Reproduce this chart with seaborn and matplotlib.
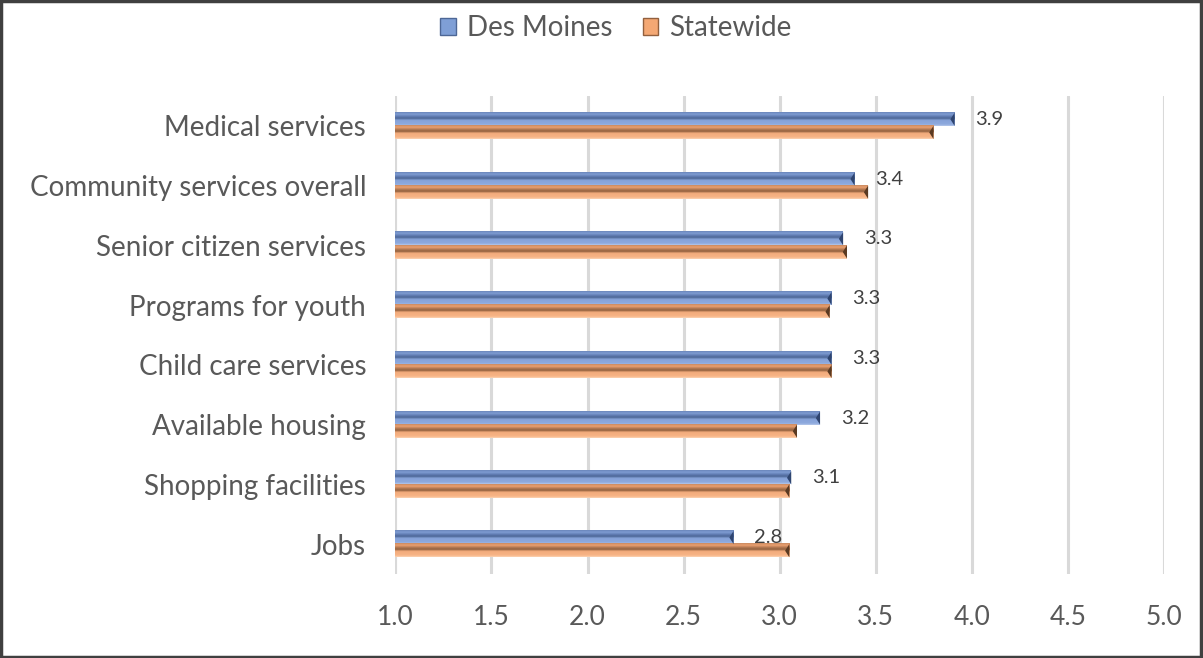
import numpy as np
import pandas as pd
import matplotlib
matplotlib.use("Agg")
import matplotlib.pyplot as plt
import seaborn as sns
from matplotlib.patches import Polygon, Rectangle, Patch
from matplotlib.colors import LinearSegmentedColormap

categories = ["Medical services", "Community services overall", "Senior citizen services",
              "Programs for youth", "Child care services", "Available housing",
              "Shopping facilities", "Jobs"]
des_moines = [3.91, 3.39, 3.33, 3.27, 3.27, 3.21, 3.06, 2.76]
statewide = [3.80, 3.46, 3.35, 3.26, 3.27, 3.09, 3.05, 3.05]
series_names = ["Des Moines", "Statewide"]
x_ticks = [1.0, 1.5, 2.0, 2.5, 3.0, 3.5, 4.0, 4.5, 5.0]

sns.set_theme(style="white")
plt.rcParams['font.family'] = ['Lato', 'DejaVu Sans']

df = pd.DataFrame({
    "category": categories * 2,
    "value": des_moines + statewide,
    "series": [series_names[0]] * len(categories) + [series_names[1]] * len(categories),
})

fig = plt.figure(figsize=(12.03, 6.58), dpi=100)
ax = fig.add_axes([395.3 / 1203, 1 - 574 / 658, 768.8 / 1203, 478 / 658])

base_cols = {"Des Moines": "#7f9fd6", "Statewide": "#f4a874"}
sns.barplot(data=df, y="category", x="value", hue="series", order=categories,
            hue_order=series_names, palette=base_cols, orient="h", width=0.44,
            gap=0, ax=ax, legend=False, zorder=3, edgecolor="none")

ax.set_xlim(1, 5)
ax.set_ylim(len(categories) - 0.5, -0.5)
ax.set_xticks(x_ticks)
ax.set_xticklabels([f"{t:.1f}" for t in x_ticks])
ax.set_xlabel("")
ax.set_ylabel("")
ax.grid(axis="x", color="#d9d9d9", linewidth=2.2, zorder=0)
ax.grid(axis="y", visible=False)
for s in ax.spines.values():
    s.set_visible(False)
ax.axvline(1, color="#d9d9d9", linewidth=2.2, zorder=0)
ax.tick_params(axis="both", length=0, colors="#595959")
ax.tick_params(axis="y", pad=21, labelsize=20)
ax.tick_params(axis="x", pad=22, labelsize=19)

# bevel gradients
grad_specs = {
    "Des Moines": [(0.0, "#b4c7ea"), (0.12, "#8eaade"), (0.42, "#86a2d8"),
                   (0.55, "#4d6796"), (0.68, "#5e7ab0"), (0.85, "#7f9cd2"), (1.0, "#6a86bb")],
    "Statewide": [(0.0, "#fbd3b5"), (0.12, "#f8b587"), (0.42, "#f2ab7b"),
                  (0.55, "#92603e"), (0.68, "#b07650"), (0.85, "#eba070"), (1.0, "#c98a60")],
}
cmaps = {k: LinearSegmentedColormap.from_list(k, v) for k, v in grad_specs.items()}
tip_cols = {"Des Moines": "#2f4570", "Statewide": "#5a3a22"}
grad = np.linspace(0, 1, 64).reshape(-1, 1)

for cont, name in zip(ax.containers, series_names):
    for p in cont.patches:
        x0, y0 = p.get_x(), p.get_y()
        w, h = p.get_width(), p.get_height()
        x1 = x0 + w
        ax.imshow(grad, cmap=cmaps[name], aspect="auto",
                  extent=(max(x0, 1.0), x1, y0, y0 + h), origin="upper",
                  zorder=4, interpolation="bilinear")
        tw = 0.022
        tri = Polygon([[x1, y0], [x1, y0 + h], [x1 - tw, y0 + h * 0.5]],
                      closed=True, facecolor=tip_cols[name], edgecolor="none", zorder=5)
        ax.add_patch(tri)

ax.set_xlim(1, 5)
ax.set_ylim(len(categories) - 0.5, -0.5)

# data labels for Des Moines only
dm_cont = ax.containers[0]
ax.bar_label(dm_cont, labels=[f"{v:.1f}" for v in des_moines], padding=15,
             fontsize=14.5, color="#404040", zorder=6)

# legend
handles = [Patch(facecolor="#7f9fd6", edgecolor="#4d6796", linewidth=1.0),
           Patch(facecolor="#f4a874", edgecolor="#92603e", linewidth=1.0)]
fig.legend(handles, series_names, loc="center", bbox_to_anchor=(616 / 1203, 1 - 28 / 658),
           ncol=2, frameon=False, fontsize=20, labelcolor="#595959",
           handlelength=0.55, handleheight=0.55, handletextpad=0.4, columnspacing=1.1)

# outer border
fig.patches.append(Rectangle((0.001, 0.001), 0.997, 0.997, transform=fig.transFigure,
                             fill=False, edgecolor="#404040", linewidth=2.5))

fig.savefig("out.png", dpi=100)
